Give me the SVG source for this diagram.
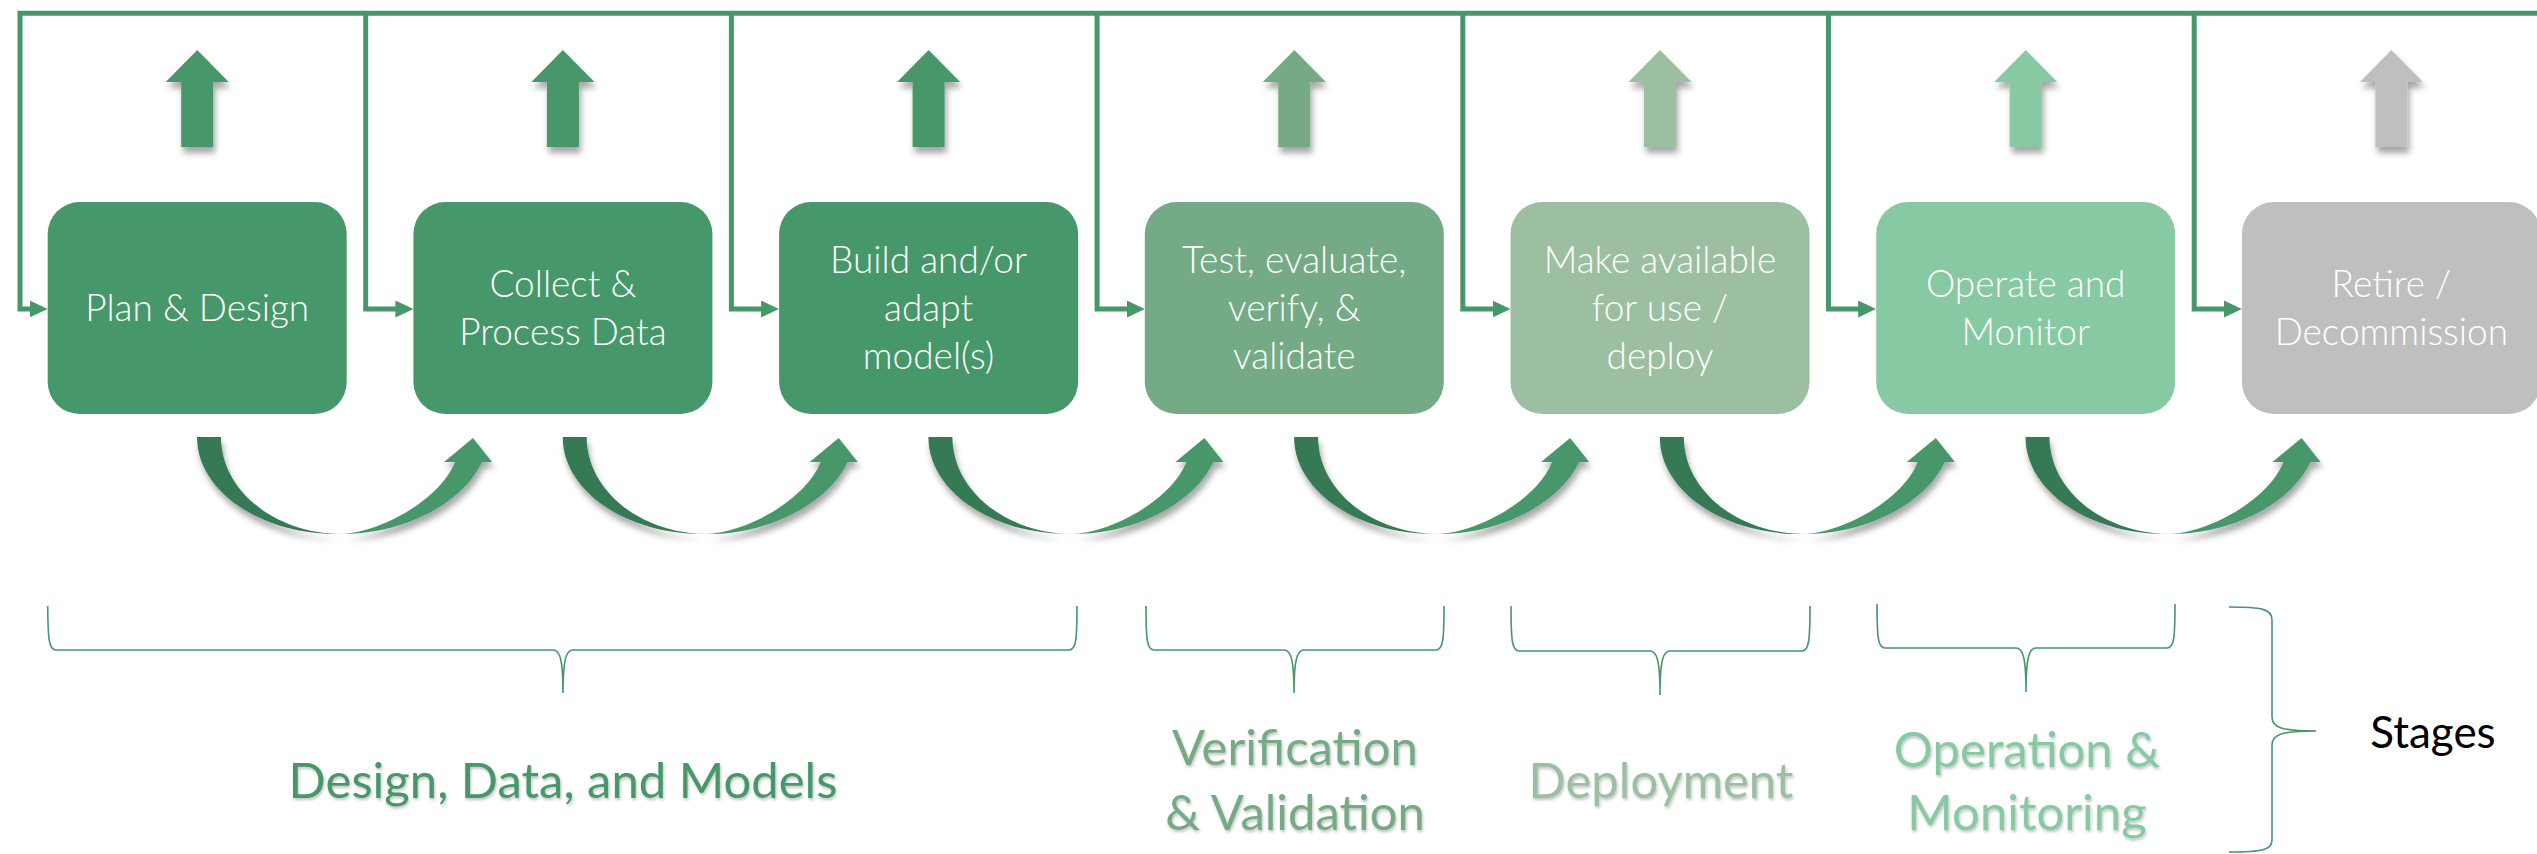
<svg xmlns="http://www.w3.org/2000/svg" xmlns:xlink="http://www.w3.org/1999/xlink" width="2537" height="854" viewBox="0 0 2537 854">
<defs>
<style>
.fb{fill:none;stroke:#46976A;stroke-width:5;stroke-linejoin:miter}
.box text{font-family:Lato,"Open Sans","Liberation Sans",sans-serif;font-weight:300;font-size:37px;fill:#ffffff;text-anchor:middle}
.brace{fill:none;stroke:#46976A;stroke-width:1.6}
.stage{font-family:Lato,"Open Sans","Liberation Sans",sans-serif;font-size:49px;text-anchor:middle;filter:url(#tsh)}
.c1{fill:#46976A}.c4{fill:#74AA85}.c5{fill:#9CBFA2}.c6{fill:#86C9A3}.c7{fill:#BFBFBF}
</style>
<marker id="ah" markerUnits="userSpaceOnUse" markerWidth="18" markerHeight="17" viewBox="0 0 18 17" refX="1" refY="8.5" orient="auto">
<path d="M0,0 L18,8.5 L0,17 Z" fill="#46976A"/>
</marker>
<filter id="sh" x="-30%" y="-30%" width="160%" height="160%">
<feDropShadow dx="2" dy="6" stdDeviation="3" flood-color="#000" flood-opacity="0.35"/>
</filter>
<filter id="tsh" x="-10%" y="-20%" width="120%" height="140%">
<feDropShadow dx="1" dy="2" stdDeviation="1.5" flood-color="#000" flood-opacity="0.25"/>
</filter>
<path id="up" d="M0,50 L31.5,82 L16,82 L16,147 L-16,147 L-16,82 L-31.5,82 Z"/>
<g id="curve" filter="url(#sh)">
<path d="M197,437 L221,437 C221,490 274,533 340,534 C261,535 197,491 197,437 Z" fill="#357A55"/>
<path d="M340,534 C400,535 462,505 482,462 L492,462 L473,438 L444,462 L455,462 C440,500 380,533 340,534 Z" fill="#46976A"/>
</g>
</defs>
<rect width="2537" height="854" fill="#ffffff"/>

<g id="connectors">
<path class="fb" d="M2537,13.3 H20 V309 H30.7" marker-end="url(#ah)"/>
<path class="fb" d="M365.7,13.3 V309 H396.4" marker-end="url(#ah)"/>
<path class="fb" d="M731.4,13.3 V309 H762.1" marker-end="url(#ah)"/>
<path class="fb" d="M1097.1,13.3 V309 H1127.8" marker-end="url(#ah)"/>
<path class="fb" d="M1462.8,13.3 V309 H1493.5" marker-end="url(#ah)"/>
<path class="fb" d="M1828.5,13.3 V309 H1859.2" marker-end="url(#ah)"/>
<path class="fb" d="M2194.2,13.3 V309 H2224.9" marker-end="url(#ah)"/>
<g id="flow-arrows">
<use xlink:href="#curve" href="#curve"/>
<use xlink:href="#curve" href="#curve" transform="translate(365.7,0)"/>
<use xlink:href="#curve" href="#curve" transform="translate(731.4,0)"/>
<use xlink:href="#curve" href="#curve" transform="translate(1097.1,0)"/>
<use xlink:href="#curve" href="#curve" transform="translate(1462.8,0)"/>
<use xlink:href="#curve" href="#curve" transform="translate(1828.5,0)"/>
</g>
</g>

<g id="up-arrows" filter="url(#sh)">
<use xlink:href="#up" href="#up" class="c1" transform="translate(197.2,0)"/>
<use xlink:href="#up" href="#up" class="c1" transform="translate(562.9,0)"/>
<use xlink:href="#up" href="#up" class="c1" transform="translate(928.6,0)"/>
<use xlink:href="#up" href="#up" class="c4" transform="translate(1294.3,0)"/>
<use xlink:href="#up" href="#up" class="c5" transform="translate(1660,0)"/>
<use xlink:href="#up" href="#up" class="c6" transform="translate(2025.7,0)"/>
<use xlink:href="#up" href="#up" class="c7" transform="translate(2391.4,0)"/>
</g>

<g id="node-plan" class="box">
<rect class="c1" x="47.7" y="202" width="299" height="212" rx="32"/>
<text x="197.2" y="321">Plan &amp; Design</text>
</g>
<g id="node-collect" class="box">
<rect class="c1" x="413.4" y="202" width="299" height="212" rx="32"/>
<text x="562.9" y="297">Collect &amp;</text>
<text x="562.9" y="345">Process Data</text>
</g>
<g id="node-build" class="box">
<rect class="c1" x="779.1" y="202" width="299" height="212" rx="32"/>
<text x="928.6" y="273">Build and/or</text>
<text x="928.6" y="321">adapt</text>
<text x="928.6" y="369">model(s)</text>
</g>
<g id="node-test" class="box">
<rect class="c4" x="1144.8" y="202" width="299" height="212" rx="32"/>
<text x="1294.3" y="273">Test, evaluate,</text>
<text x="1294.3" y="321">verify, &amp;</text>
<text x="1294.3" y="369">validate</text>
</g>
<g id="node-deploy" class="box">
<rect class="c5" x="1510.5" y="202" width="299" height="212" rx="32"/>
<text x="1660" y="273">Make available</text>
<text x="1660" y="321">for use /</text>
<text x="1660" y="369">deploy</text>
</g>
<g id="node-operate" class="box">
<rect class="c6" x="1876.2" y="202" width="299" height="212" rx="32"/>
<text x="2025.7" y="297">Operate and</text>
<text x="2025.7" y="345">Monitor</text>
</g>
<g id="node-retire" class="box">
<rect class="c7" x="2241.9" y="202" width="299" height="212" rx="32"/>
<text x="2391.4" y="297">Retire /</text>
<text x="2391.4" y="345">Decommission</text>
</g>

<g id="stage-brackets">
<path class="brace" d="M47.7,606 C48,640 49,650 56,650 L553,650 C560,650 563,660 563,693 M563,693 C563,660 566,650 573,650 L1069,650 C1076,650 1077,640 1077,606"/>
<path class="brace" d="M1146,606 C1146,640 1147,650 1154,650 L1284,650 C1291,650 1294,660 1294,693 M1294,693 C1294,660 1297,650 1304,650 L1436,650 C1443,650 1444,640 1444,606"/>
<path class="brace" d="M1511,606 C1511,640 1512,651 1519,651 L1650,651 C1657,651 1660,661 1660,695 M1660,695 C1660,661 1663,651 1670,651 L1802,651 C1809,651 1810,640 1810,606"/>
<path class="brace" d="M1877,604 C1877,638 1878,648 1885,648 L2016,648 C2023,648 2026,658 2026,692 M2026,692 C2026,658 2029,648 2036,648 L2167,648 C2174,648 2175,638 2175,604"/>
<path class="brace" d="M2229,607 C2262,607 2272,609 2272,620 L2272,717 C2272,727 2280,731 2316,731 M2316,731 C2280,731 2272,735 2272,745 L2272,840 C2272,850 2262,852 2229,852"/>
</g>

<g id="stage-labels">
<text class="stage c1" x="563" y="798">Design, Data, and Models</text>
<text class="stage c4" x="1295" y="765">Verification</text>
<text class="stage c4" x="1295" y="830">&amp; Validation</text>
<text class="stage c5" x="1661" y="798">Deployment</text>
<text class="stage c6" x="2027" y="767">Operation &amp;</text>
<text class="stage c6" x="2027" y="830">Monitoring</text>
<text x="2433" y="748" style="font-family:Lato,'Open Sans','Liberation Sans',sans-serif;font-size:44px;fill:#000000;text-anchor:middle">Stages</text>
</g>
</svg>
